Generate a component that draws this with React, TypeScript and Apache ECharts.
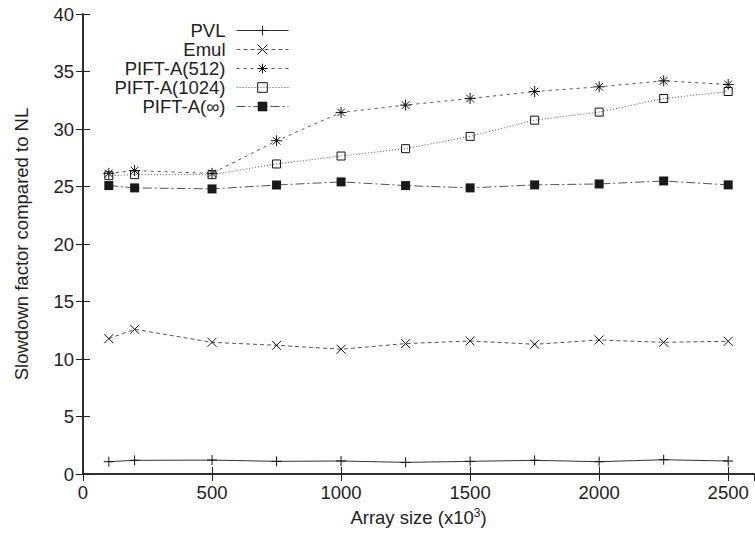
import React, { useEffect, useRef } from "react";
import * as echarts from "echarts";

const xs = [100, 200, 500, 750, 1000, 1250, 1500, 1750, 2000, 2250, 2500];
const pvl = [1.07, 1.19, 1.21, 1.1, 1.13, 1.01, 1.1, 1.19, 1.07, 1.24, 1.13];
const emul = [11.77, 12.58, 11.45, 11.19, 10.85, 11.34, 11.57, 11.28, 11.65, 11.45, 11.54];
const pift512 = [26.14, 26.38, 26.14, 28.98, 31.44, 32.08, 32.65, 33.26, 33.67, 34.19, 33.87];
const pift1024 = [25.94, 26.03, 26.03, 26.96, 27.65, 28.29, 29.36, 30.77, 31.47, 32.65, 33.26];
const piftInf = [25.08, 24.88, 24.79, 25.13, 25.4, 25.08, 24.88, 25.14, 25.22, 25.48, 25.14];
const seriesNames = ["PVL", "Emul", "PIFT-A(512)", "PIFT-A(1024)", "PIFT-A(\u221e)"];

const FONT = "Liberation Sans";
const INK = "#222";
const LINE = "#555";
const FS = 18.5;

const pair = (vals: number[]) => xs.map((x, i) => [x, vals[i]]);

export default function App() {
  const ref = useRef<HTMLDivElement>(null);
  useEffect(() => {
    if (!ref.current) return;
    const chart = echarts.init(ref.current, null, { renderer: "svg" });
    const strokeSym = { color: "transparent", borderColor: "#111", borderWidth: 1 };
    const axisCommon = {
      type: "value" as const,
      axisLine: { show: true, lineStyle: { color: INK, width: 1.5 } },
      axisTick: { show: true, inside: true, length: 7, lineStyle: { color: INK, width: 1 } },
      splitLine: { show: false },
    };
    chart.setOption({
      animation: false,
      backgroundColor: "#fff",
      grid: { left: 83, right: 1, top: 14, bottom: 62, containLabel: false },
      legend: {
        orient: "vertical",
        align: "right",
        right: 466,
        top: 21,
        padding: 0,
        itemGap: 0,
        itemWidth: 52,
        itemHeight: 12,
        data: seriesNames,
        selectedMode: false,
        lineStyle: { width: 1 },
        itemStyle: { borderWidth: 1 },
        textStyle: { fontFamily: FONT, fontSize: FS, color: INK, padding: [0, 6, 0, 0] },
      },
      xAxis: [
        {
          ...axisCommon,
          position: "bottom",
          min: 0,
          max: 2600,
          interval: 500,
          name: "Array size (x10{sup|3})",
          nameLocation: "middle",
          nameGap: 28,
          nameTextStyle: {
            fontFamily: FONT,
            fontSize: FS,
            color: INK,
            rich: { sup: { fontFamily: FONT, fontSize: 12, color: INK, padding: [0, 0, 10, 0] } },
          },
          axisLabel: {
            fontFamily: FONT,
            fontSize: FS,
            color: INK,
            margin: 9,
            showMaxLabel: false,
            formatter: (v: number) => String(v),
          },
        },
        {
          ...axisCommon,
          position: "top",
          min: 0,
          max: 2600,
          interval: 500,
          axisLabel: { show: false },
        },
      ],
      yAxis: [
        {
          ...axisCommon,
          position: "left",
          min: 0,
          max: 40,
          interval: 5,
          name: "Slowdown factor compared to NL",
          nameLocation: "middle",
          nameGap: 52,
          nameTextStyle: { fontFamily: FONT, fontSize: FS, color: INK },
          axisLabel: { fontFamily: FONT, fontSize: FS, color: INK, margin: 9 },
        },
        {
          ...axisCommon,
          position: "right",
          min: 0,
          max: 40,
          interval: 5,
          axisLabel: { show: false },
        },
      ],
      series: [
        {
          name: seriesNames[0],
          type: "line",
          data: pair(pvl),
          symbol: "path://M5,0L5,10M0,5L10,5",
          symbolSize: 10,
          lineStyle: { color: "#333", width: 1, type: "solid" },
          itemStyle: strokeSym,
        },
        {
          name: seriesNames[1],
          type: "line",
          data: pair(emul),
          symbol: "path://M0,0L10,10M10,0L0,10",
          symbolSize: 9,
          lineStyle: { color: LINE, width: 1, type: [4, 3] },
          itemStyle: strokeSym,
        },
        {
          name: seriesNames[2],
          type: "line",
          data: pair(pift512),
          symbol: "path://M5,0L5,10M0,5L10,5M1.5,1.5L8.5,8.5M8.5,1.5L1.5,8.5",
          symbolSize: 11,
          lineStyle: { color: LINE, width: 1, type: [3, 4] },
          itemStyle: strokeSym,
        },
        {
          name: seriesNames[3],
          type: "line",
          data: pair(pift1024),
          symbol: "rect",
          symbolSize: 8,
          lineStyle: { color: LINE, width: 1, type: [1, 2] },
          itemStyle: strokeSym,
        },
        {
          name: seriesNames[4],
          type: "line",
          data: pair(piftInf),
          symbol: "rect",
          symbolSize: 9,
          lineStyle: { color: LINE, width: 1, type: [9, 3, 2, 3] },
          itemStyle: { color: "#1a1a1a" },
        },
      ],
    });
    return () => chart.dispose();
  }, []);
  return (
    <div
      ref={ref}
      style={{ position: "fixed", left: 0, top: 0, width: 755, height: 536, background: "#fff" }}
    />
  );
}
